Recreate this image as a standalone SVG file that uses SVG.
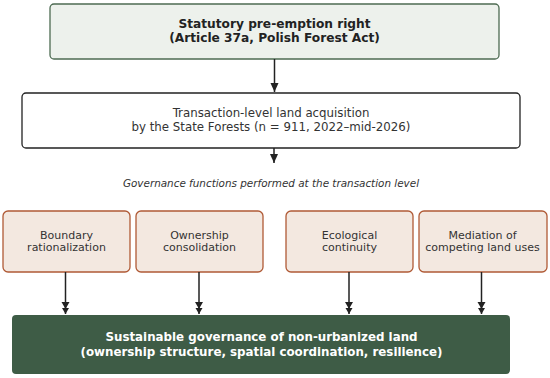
<svg xmlns="http://www.w3.org/2000/svg" width="550" height="378" viewBox="0 0 550 378">
<defs>
<style>
text{font-family:"DejaVu Sans",sans-serif;text-anchor:middle}
.b{font-weight:bold;font-size:12.2px;fill:#222}
.r{font-size:11.8px;fill:#333}
.f{font-size:11px;fill:#333}
.i{font-style:italic;font-size:10.4px;fill:#333}
.w{font-weight:bold;font-size:11.85px;fill:#fff}
.fn{fill:#f3e8e0;stroke:#b05a36;stroke-width:1.3}
.cn{stroke:#222;stroke-width:1.5;fill:none}
</style>
<marker id="ah" markerWidth="10" markerHeight="10" refX="9" refY="5" orient="auto" markerUnits="userSpaceOnUse" viewBox="0 0 10 10">
<path d="M0,1 L9,5 L0,9 Z" fill="#222"/>
</marker>
<marker id="ah2" markerWidth="13" markerHeight="10" refX="12" refY="5" orient="auto" markerUnits="userSpaceOnUse" viewBox="0 0 13 10">
<path d="M0,1 L7,5 L0,9 Z M6,1.5 L12,5 L6,8.5 Z" fill="#222"/>
</marker>
</defs>
<rect width="550" height="378" fill="#fff"/>
<g id="n-statutory">
<rect x="50" y="4" width="449" height="55" rx="4" fill="#edf1ec" stroke="#4d6b52" stroke-width="1.3"/>
<text class="b" x="274.5" y="28">Statutory pre-emption right</text>
<text class="b" x="274.5" y="42">(Article 37a, Polish Forest Act)</text>
</g>
<g id="n-transaction">
<rect x="22" y="93" width="498" height="55" rx="4" fill="#fff" stroke="#222" stroke-width="1.3"/>
<text class="r" x="271" y="117">Transaction-level land acquisition</text>
<text class="r" x="271" y="131">by the State Forests (n = 911, 2022–mid-2026)</text>
</g>
<g id="n-caption">
<text class="i" x="271" y="186.5">Governance functions performed at the transaction level</text>
</g>
<g id="n-boundary">
<rect class="fn" x="3" y="211" width="127" height="61" rx="5"/>
<text class="f" x="66.5" y="239">Boundary</text>
<text class="f" x="66.5" y="251">rationalization</text>
</g>
<g id="n-ownership">
<rect class="fn" x="136" y="211" width="127" height="61" rx="5"/>
<text class="f" x="199.5" y="239">Ownership</text>
<text class="f" x="199.5" y="251">consolidation</text>
</g>
<g id="n-ecological">
<rect class="fn" x="286" y="211" width="127" height="61" rx="5"/>
<text class="f" x="349.5" y="239">Ecological</text>
<text class="f" x="349.5" y="251">continuity</text>
</g>
<g id="n-mediation">
<rect class="fn" x="419" y="211" width="128" height="61" rx="5"/>
<text class="f" x="482.5" y="239">Mediation of</text>
<text class="f" x="482.5" y="251">competing land uses</text>
</g>
<g id="n-sustainable">
<rect x="12" y="315" width="498" height="59" rx="4" fill="#3e5c46"/>
<text class="w" x="261.5" y="341">Sustainable governance of non-urbanized land</text>
<text class="w" x="261.5" y="355.5">(ownership structure, spatial coordination, resilience)</text>
</g>
<g id="connectors">
<line class="cn" x1="274.5" y1="59" x2="274.5" y2="92" marker-end="url(#ah)"/>
<line class="cn" x1="274" y1="148" x2="274" y2="163" marker-end="url(#ah)"/>
<line class="cn" x1="65.5" y1="272" x2="65.5" y2="314" marker-end="url(#ah2)"/>
<line class="cn" x1="199" y1="272" x2="199" y2="314" marker-end="url(#ah2)"/>
<line class="cn" x1="349" y1="272" x2="349" y2="314" marker-end="url(#ah2)"/>
<line class="cn" x1="481.5" y1="272" x2="481.5" y2="314" marker-end="url(#ah2)"/>
</g>
</svg>
